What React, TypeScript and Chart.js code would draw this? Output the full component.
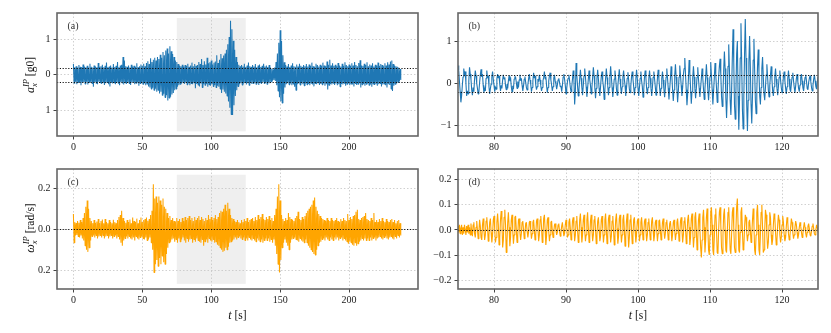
import React, { useEffect, useRef } from "react";
import { Chart, registerables } from "chart.js";
Chart.register(...registerables);

const FONT = '"Liberation Serif", "DejaVu Serif", serif';

// ---- Panel (a): acceleration envelope, one upper and one lower value per second (t = 0..237 s)
const accUpper = [
  .30,.21,.24,.20,.27,.22,.21,.29,.23,.21,
  .25,.20,.31,.22,.20,.26,.23,.21,.33,.22,
  .24,.28,.21,.25,.34,.21,.23,.26,.20,.30,
  .22,.25,.36,.21,.26,.28,.50,.40,.24,.22,
  .26,.20,.28,.23,.25,.22,.32,.21,.24,.29,
  .25,.31,.24,.33,.38,.30,.46,.36,.42,.48,
  .40,.50,.44,.56,.48,.64,.55,.68,.74,.60,
  .80,.66,.58,.50,.40,.36,.30,.26,.24,.28,
  .23,.27,.25,.31,.22,.26,.34,.24,.30,.25,
  .27,.36,.30,.44,.27,.38,.29,.48,.32,.35,
  .40,.29,.34,.37,.55,.33,.42,.58,.46,.54,
  .60,.70,.86,1.06,1.52,1.28,.96,.70,.50,.36,
  .28,.24,.27,.23,.31,.22,.26,.34,.24,.22,
  .27,.23,.30,.21,.26,.29,.22,.25,.31,.23,
  .26,.22,.27,.20,.17,.15,.20,.36,.60,.90,
  1.25,.95,.55,.35,.27,.23,.30,.22,.26,.32,
  .24,.22,.29,.23,.31,.25,.22,.27,.24,.30,
  .23,.29,.25,.34,.24,.22,.31,.27,.23,.28,
  .25,.34,.26,.24,.37,.28,.42,.26,.32,.25,
  .28,.24,.33,.26,.23,.31,.25,.35,.27,.24,
  .29,.25,.32,.26,.36,.27,.24,.33,.41,.26,
  .25,.31,.27,.35,.24,.29,.26,.32,.23,.28,
  .26,.34,.25,.30,.27,.24,.32,.26,.35,.29,
  .37,.40,.30,.26,.24,.22,.20,.16,
];
const accLower = [
  -.24,-.20,-.27,-.22,-.21,-.30,-.23,-.21,-.26,-.20,
  -.28,-.22,-.20,-.25,-.34,-.21,-.24,-.27,-.20,-.23,
  -.26,-.21,-.29,-.24,-.22,-.27,-.33,-.21,-.25,-.23,
  -.27,-.22,-.24,-.30,-.21,-.25,-.28,-.23,-.26,-.22,
  -.25,-.29,-.23,-.21,-.27,-.24,-.22,-.31,-.25,-.23,
  -.27,-.24,-.30,-.26,-.33,-.36,-.40,-.37,-.44,-.40,
  -.48,-.44,-.53,-.48,-.58,-.54,-.64,-.58,-.73,-.66,
  -.62,-.56,-.52,-.44,-.40,-.34,-.30,-.27,-.25,-.23,
  -.26,-.22,-.28,-.24,-.30,-.25,-.27,-.23,-.38,-.26,
  -.29,-.33,-.25,-.36,-.27,-.30,-.26,-.34,-.28,-.31,
  -.27,-.33,-.29,-.36,-.31,-.34,-.40,-.52,-.42,-.48,
  -.53,-.60,-.76,-.93,-1.12,-1.14,-.86,-.60,-.44,-.33,
  -.27,-.24,-.29,-.25,-.22,-.28,-.24,-.30,-.23,-.26,
  -.25,-.22,-.27,-.24,-.29,-.23,-.26,-.21,-.25,-.23,
  -.27,-.22,-.24,-.20,-.17,-.15,-.18,-.30,-.46,-.64,
  -.75,-.80,-.54,-.36,-.27,-.24,-.28,-.25,-.30,-.26,
  -.34,-.44,-.27,-.25,-.29,-.24,-.27,-.31,-.25,-.28,
  -.26,-.30,-.24,-.28,-.33,-.25,-.27,-.23,-.29,-.26,
  -.28,-.25,-.31,-.27,-.42,-.30,-.26,-.28,-.24,-.29,
  -.25,-.30,-.27,-.34,-.26,-.28,-.24,-.31,-.27,-.25,
  -.30,-.26,-.28,-.33,-.25,-.29,-.27,-.24,-.36,-.28,
  -.26,-.31,-.27,-.25,-.30,-.28,-.34,-.26,-.29,-.27,
  -.31,-.27,-.25,-.33,-.28,-.26,-.30,-.36,-.27,-.29,
  -.40,-.46,-.31,-.27,-.25,-.22,-.19,-.15,
];

// ---- Panel (c): angular rate envelope, one upper and one lower value per second (t = 0..237 s)
const rateUpper = [
  .075,.035,.03,.04,.032,.045,.035,.055,.08,.11,
  .14,.10,.055,.04,.03,.045,.032,.038,.05,.03,
  .04,.048,.03,.05,.035,.03,.045,.036,.03,.046,
  .035,.03,.045,.06,.07,.09,.055,.04,.032,.045,
  .036,.048,.03,.058,.04,.035,.052,.03,.045,.058,
  .036,.045,.05,.058,.042,.05,.07,.09,.22,.15,
  .16,.13,.16,.14,.12,.15,.11,.10,.08,.055,
  .065,.045,.055,.04,.038,.055,.04,.05,.036,.055,
  .04,.06,.045,.055,.065,.045,.055,.04,.06,.045,
  .055,.065,.045,.06,.05,.04,.055,.045,.07,.05,
  .06,.045,.055,.07,.05,.06,.08,.09,.085,.10,
  .12,.09,.13,.10,.07,.055,.05,.04,.035,.045,
  .035,.03,.045,.035,.05,.04,.055,.035,.045,.05,
  .055,.04,.06,.045,.07,.05,.06,.075,.05,.045,
  .06,.05,.065,.045,.055,.04,.07,.10,.16,.22,
  .14,.07,.05,.04,.055,.045,.08,.06,.05,.045,
  .04,.055,.065,.085,.05,.045,.06,.05,.065,.08,
  .09,.10,.11,.12,.14,.155,.11,.09,.075,.065,
  .055,.05,.045,.04,.055,.045,.04,.055,.045,.04,
  .045,.055,.04,.035,.05,.04,.055,.045,.04,.075,
  .045,.06,.05,.065,.07,.085,.095,.05,.045,.055,
  .06,.065,.08,.05,.045,.04,.055,.045,.08,.035,
  .045,.035,.05,.04,.055,.04,.035,.05,.04,.035,
  .045,.05,.035,.045,.03,.04,.045,.03,
];
const rateLower = [
  -.065,-.03,-.028,-.035,-.04,-.03,-.045,-.055,-.08,-.10,
  -.11,-.09,-.055,-.035,-.03,-.04,-.03,-.045,-.035,-.03,
  -.04,-.03,-.045,-.035,-.03,-.045,-.035,-.03,-.045,-.035,
  -.03,-.045,-.035,-.05,-.065,-.08,-.055,-.045,-.035,-.045,
  -.035,-.045,-.05,-.04,-.055,-.035,-.045,-.05,-.04,-.035,
  -.045,-.05,-.04,-.055,-.05,-.04,-.065,-.10,-.21,-.17,
  -.15,-.18,-.14,-.17,-.13,-.16,-.17,-.12,-.09,-.065,
  -.06,-.05,-.045,-.06,-.05,-.065,-.045,-.06,-.05,-.04,
  -.055,-.065,-.045,-.06,-.05,-.045,-.065,-.05,-.06,-.045,
  -.055,-.06,-.065,-.05,-.08,-.06,-.05,-.065,-.045,-.055,
  -.06,-.05,-.065,-.06,-.075,-.08,-.09,-.10,-.11,-.105,
  -.09,-.10,-.085,-.065,-.06,-.055,-.05,-.04,-.05,-.04,
  -.035,-.045,-.05,-.04,-.055,-.045,-.055,-.04,-.05,-.055,
  -.045,-.055,-.06,-.045,-.055,-.06,-.05,-.065,-.055,-.045,
  -.055,-.045,-.06,-.05,-.065,-.05,-.08,-.12,-.17,-.21,
  -.15,-.09,-.065,-.05,-.065,-.08,-.10,-.065,-.05,-.045,
  -.04,-.05,-.055,-.06,-.045,-.055,-.06,-.065,-.05,-.065,
  -.08,-.09,-.10,-.11,-.12,-.125,-.10,-.08,-.065,-.06,
  -.05,-.045,-.055,-.04,-.05,-.055,-.04,-.05,-.055,-.04,
  -.05,-.04,-.055,-.045,-.04,-.055,-.045,-.055,-.06,-.07,
  -.06,-.065,-.075,-.08,-.065,-.08,-.07,-.06,-.055,-.045,
  -.055,-.045,-.055,-.045,-.055,-.04,-.055,-.045,-.04,-.055,
  -.045,-.04,-.035,-.045,-.05,-.04,-.035,-.045,-.05,-.04,
  -.035,-.045,-.05,-.035,-.045,-.03,-.04,-.03,
];

// ---- Panels (b) and (d): zoomed window 75..125 s, samples every 0.1 s
const zoomStart = 75;
const zoomStep = 0.1;
const accZoom = [
  // 75.0 - 78.9
  .42,.30,.05,-.20,-.45,-.30,-.05,.15, .35,.20,.28,.0,-.30,-.18,-.25,.05, .38,.22,.10,-.15,-.28,-.10,-.20,.10, .30,.18,.0,-.12,-.25,-.20,.02,.20, .33,.15,.22,-.05,-.22,-.10,-.18,.12,
  // 79.0 - 82.9
  .30,.12,.18,-.08,-.25,-.12,-.02,.15, .28,.10,-.05,-.20,-.08,-.14,.10,.22, .12,.18,-.02,-.18,-.05,-.12,.08,.20, .10,.14,-.06,-.15,-.02,-.12,.06,.18, .05,.14,-.08,-.20,-.06,-.14,.10,.16,
  // 83.0 - 86.9
  .15,.02,-.12,.04,-.10,.08,.20,.06, .12,-.05,-.18,-.06,.10,.16,.02,-.10, -.16,-.04,.10,.22,.08,-.02,-.20,-.10, .06,.25,.12,.18,-.04,-.15,-.08,.10, .04,.20,.08,-.06,-.18,-.10,.06,.14,
  // 87.0 - 90.9
  .28,.10,.16,-.05,-.22,-.10,.05,.18, .25,.08,-.04,-.18,-.08,.12,.20,.05, -.02,-.14,-.04,.08,.12,.02,-.08,-.06, -.20,-.05,.15,.22,.10,-.05,-.25,-.12, .04,.12,.20,.06,-.10,-.20,-.08,.10,
  // 91.0 - 94.9
  .30,.08,-.50,-.20,.48,.20,-.05,-.30, -.15,.10,.32,.12,-.10,-.28,-.05,.18, .35,.15,-.08,-.32,-.12,.10,.30,.08, -.05,-.25,-.10,.15,.38,.18,-.10,-.35, -.12,.12,.32,.10,-.12,-.30,-.08,.16,
  // 95.0 - 98.9
  .28,.06,-.08,-.38,-.15,.12,.35,.14, -.06,-.28,-.10,.15,.40,.16,-.10,-.32, -.12,.10,.30,.12,-.12,-.28,-.06,.14, .33,.10,-.10,-.25,-.08,.15,.30,.10, -.05,-.30,-.12,.12,.26,.08,-.14,-.22,
  // 99.0 - 102.9
  -.06,.15,.28,.10,-.08,-.28,-.10,.10, .32,.12,-.12,-.30,-.10,.12,.28,.06, -.08,-.33,-.14,.15,.30,.12,-.12,-.26, -.10,.10,.30,.12,-.12,-.30,-.10,.14, .28,.10,-.08,-.28,-.12,.12,.32,.10,
  // 103.0 - 106.9
  -.10,-.30,-.12,.12,.28,.08,-.14,-.33, -.10,.15,.35,.12,-.12,-.38,-.14,.10, .40,.18,-.14,-.42,-.16,.18,.45,.15, -.10,-.45,-.20,.15,.42,.20,-.05,-.30, -.10,.20,.35,.60,.20,-.15,-.52,-.25,
  // 107.0 - 110.9
  .10,.55,.25,-.10,-.48,-.20,.12,.40, .15,-.12,-.35,-.12,.15,.38,.10,-.12, -.32,-.10,.12,.35,.12,-.15,-.38,-.12, .15,.45,.14,-.15,-.40,-.14,.16,.50, .18,-.15,-.50,-.18,.14,.48,.20,-.10,
  // 111.0 - 114.9
  -.45,-.20,.15,.40,.58,.20,-.30,-.55,-.20,.30, .75,.35,-.35,-.82,-.30,.40,.92,.30,-.40,-.75, -.20,.60,1.28,.50,-.50,-.85,-.20,.70,1.00,-.30, -1.10,-.40,.60,1.42,.50,-.60,-1.08,-.30,.70,1.52,
  // 115.0 - 118.9
  .60,-.50,-1.13,-.40,.50,1.12,.40,-.50,-.95,-.30, .55,1.05,.30,-.40,-.72,-.20,.40,.80,.25,-.30, -.50,-.10,.35,.62,.15,-.25,-.40,-.10,.20,.45, .15,-.15,-.32,-.05,.20,.40,.10,-.18,-.30,-.08,
  // 119.0 - 122.9
  .15,.35,.10,-.12,-.28,-.08,.14,.30, .08,-.10,-.22,-.05,.16,.28,.06,-.12, -.25,-.08,.12,.30,.10,-.14,-.20,-.02, .15,.25,.06,-.10,-.22,-.06,.12,.22, .04,-.12,-.20,-.04,.14,.22,.06,-.10,
  // 123.0 - 125.0
  -.18,-.02,.14,.20,.05,-.12,-.15,.02,.12,.18, .04,-.10,-.18,-.05,.10,.20,.06,-.08,-.14,.02,.15,
];
const rateZoom = [
  // 75.0 - 78.9
  .015,-.01,.02,-.015,.005,.02,-.02,.01, -.015,.02,.0,-.02,.015,-.01,.02,-.015, .01,-.02,.025,-.01,-.025,.02,.03,-.015, -.03,.01,.035,.0,-.035,-.01,.04,.015, -.03,-.04,.02,.045,.0,-.04,-.02,.035,
  // 79.0 - 82.9
  .05,.01,-.045,-.02,.03,.045,-.01,-.05, -.02,.04,.055,.0,-.05,-.03,.03,.065, .02,-.06,-.03,.04,.075,.03,-.07,-.04, .05,.08,.02,-.09,-.05,.03,.07,.01, -.065,-.03,.04,.06,.0,-.055,-.02,.05,
  // 83.0 - 86.9
  .055,.0,-.05,-.02,.04,.045,-.01,-.04, -.015,.03,.035,.0,-.035,-.01,.025,.03, -.005,-.03,-.01,.03,.035,.0,-.035,-.015,.03,.04, .0,-.04,-.02,.035,.045,.005,-.045,-.02,.04,.055, .01,-.05,-.02,.045,
  // 87.0 - 90.9
  .06,.0,-.06,-.025,.04,.05,-.005,-.045, -.02,.03,.035,-.005,-.03,-.01,.02,.025, .0,-.02,-.01,.02,.025,-.005,-.025,-.01, .015,.03,.0,-.025,-.015,.02,.04,.01, -.03,-.02,.03,.045,.005,-.04,-.02,.035,
  // 91.0 - 94.9
  .05,.01,-.045,-.02,.035,.055,.0,-.05, -.025,.04,.065,.01,-.05,-.02,.04,.06, .0,-.045,-.02,.04,.07,.01,-.05,-.03, .035,.06,.0,-.045,-.02,.04,.055,.0, -.055,-.02,.035,.05,.0,-.045,-.025,.04,
  // 95.0 - 98.9
  .055,.005,-.05,-.02,.04,.065,.0,-.055, -.02,.045,.06,.0,-.05,-.025,.035,.055, .0,-.06,-.02,.04,.065,.005,-.055,-.025, .045,.06,.0,-.05,-.02,.04,.06,.005, -.065,-.03,.035,.065,.0,-.07,-.03,.04,
  // 99.0 - 102.9
  .06,.0,-.055,-.02,.04,.05,-.005,-.05, -.02,.035,.045,.0,-.045,-.02,.03,.05, .005,-.04,-.015,.035,.045,.0,-.045,-.02, .03,.045,.0,-.04,-.015,.035,.05,.0, -.045,-.02,.03,.04,.0,-.045,-.015,.035,
  // 103.0 - 106.9
  .04,.0,-.04,-.015,.03,.045,.0,-.035, -.015,.03,.04,.0,-.04,-.02,.025,.035, .0,-.045,-.02,.03,.04,.0,-.04,-.015, .03,.045,.005,-.045,-.02,.035,.05,.0, -.05,-.02,.035,.05,.005,-.055,-.025,.04,
  // 107.0 - 110.9
  .06,.01,-.06,-.03,.045,.065,.005,-.07, -.03,.05,.07,.0,-.08,-.04,.04,.065, .0,-.07,-.11,-.04,.05,.08,.01,-.09, -.04,.05,.085,.01,-.08,-.10,-.02,.07, .09,.02,-.08,-.10,-.03,.06,.085,.0,
  // 111.0 - 114.9
  -.09,-.095,.0,.07,.09,.02,-.07,-.095, -.02,.06,.085,.0,-.08,-.09,-.01,.07, .09,.01,-.08,-.095,-.02,.07,.09,.01, -.07,-.09,.0,.09,.125,.02,-.08,-.09, -.01,.07,.09,.0,-.08,-.07,.01,.06,
  // 115.0 - 118.9
  .05,-.01,-.045,-.02,.03,.04,.0,-.05, -.02,.04,.085,.02,-.08,-.10,-.02,.07, .10,.02,-.08,-.10,-.02,.07,.10,.01, -.09,-.08,.0,.08,.06,-.02,-.075,-.05, .02,.07,.05,-.02,-.06,-.04,.02,.065,
  // 119.0 - 122.9
  .05,-.01,-.06,-.04,.02,.06,.04,-.02, -.05,-.03,.02,.055,.03,-.02,-.045,-.03, .015,.05,.03,-.015,-.04,-.025,.01,.045, .03,-.01,-.035,-.02,.01,.035,.02,-.01, -.035,-.02,.01,.03,.015,-.01,-.03,-.015,
  // 123.0 - 125.0
  .01,.03,.01,-.015,-.03,-.01,.015,.025,.005,-.02, -.025,-.005,.015,.025,.005,-.015,-.02,.0,.02,.01,-.01,
];

// ---- ticks and labels
const fullXTicks = [0, 50, 100, 150, 200];
const fullXLabels = ["0", "50", "100", "150", "200"];
const zoomXTicks = [80, 90, 100, 110, 120];
const zoomXLabels = ["80", "90", "100", "110", "120"];
const accYTicks = [-1, 0, 1];
const accYLabels = ["1", "0", "1"];
const accZoomYTicks = [-1, 0, 1];
const accZoomYLabels = ["\u22121", "0", "1"];
const rateYTicks = [-0.2, 0, 0.2];
const rateYLabels = ["0.2", "0.0", "0.2"];
const rateZoomYTicks = [-0.2, -0.1, 0, 0.1, 0.2];
const rateZoomYLabels = ["\u22120.2", "\u22120.1", "0.0", "0.1", "0.2"];
const accThresholds = [-0.2, 0.2];
const rateThresholds = [0];
const shadeWindow = [75, 125];

type Seg = { t: string; s: number; i: boolean; dy: number; stack?: boolean };

const fullPoints = (up: number[], lo: number[]) =>
  up.flatMap((u, k) => [{ x: k, y: u }, { x: k + 0.5, y: lo[k] }]);
const zoomPoints = (vals: number[]) => vals.map((v, k) => ({ x: zoomStart + k * zoomStep, y: v }));

const BLUE = "#1f77b4";
const ORANGE = "#ffa500";

const PANELS: any[] = [
  {
    left: 0, top: 0, width: 430, height: 160,
    area: { left: 57, top: 13, right: 418, bottom: 136 },
    points: fullPoints(accUpper, accLower), color: BLUE, lw: 1.05,
    xMin: -11.9, xMax: 250, yMin: -1.73, yMax: 1.74,
    xTicks: fullXTicks, xLabels: fullXLabels, yTicks: accYTicks, yLabels: accYLabels,
    hLines: accThresholds, shade: { x0: shadeWindow[0], x1: shadeWindow[1], y0: -1.6, y1: 1.6 },
    tag: "(a)",
    yTitle: { cx: 34, cy: 75, segs: [
      { t: "a", s: 12, i: true, dy: 0 },
      { t: "x", s: 8.5, i: true, dy: 2.5, stack: true },
      { t: "IP", s: 8.5, i: true, dy: -5 },
      { t: " [g0]", s: 11.5, i: false, dy: 0 },
    ] },
  },
  {
    left: 430, top: 0, width: 401, height: 160,
    area: { left: 28, top: 13, right: 388, bottom: 136 },
    points: zoomPoints(accZoom), color: BLUE, lw: 1.1,
    xMin: 75, xMax: 125, yMin: -1.246, yMax: 1.662,
    xTicks: zoomXTicks, xLabels: zoomXLabels, yTicks: accZoomYTicks, yLabels: accZoomYLabels,
    hLines: accThresholds, tag: "(b)",
  },
  {
    left: 0, top: 160, width: 430, height: 173,
    area: { left: 57, top: 5, right: 418, bottom: 129 },
    points: fullPoints(rateUpper, rateLower), color: ORANGE, lw: 1.05,
    xMin: -11.9, xMax: 250, yMin: -0.291, yMax: 0.294,
    xTicks: fullXTicks, xLabels: fullXLabels, yTicks: rateYTicks, yLabels: rateYLabels,
    hLines: rateThresholds, shade: { x0: shadeWindow[0], x1: shadeWindow[1], y0: -0.266, y1: 0.266 },
    tag: "(c)",
    yTitle: { cx: 34, cy: 68, segs: [
      { t: "\u03c9", s: 12, i: true, dy: 0 },
      { t: "x", s: 8.5, i: true, dy: 2.5, stack: true },
      { t: "IP", s: 8.5, i: true, dy: -5 },
      { t: " [rad/s]", s: 11.5, i: false, dy: 0 },
    ] },
    xTitle: true,
  },
  {
    left: 430, top: 160, width: 401, height: 173,
    area: { left: 28, top: 5, right: 388, bottom: 129 },
    points: zoomPoints(rateZoom), color: ORANGE, lw: 1.1,
    xMin: 75, xMax: 125, yMin: -0.235, yMax: 0.242,
    xTicks: zoomXTicks, xLabels: zoomXLabels, yTicks: rateZoomYTicks, yLabels: rateZoomYLabels,
    hLines: rateThresholds, tag: "(d)", xTitle: true,
  },
];

function fontStr(size: number, italic: boolean) {
  return `${italic ? "italic " : ""}${size}px ${FONT}`;
}

function drawSegs(ctx: CanvasRenderingContext2D, segs: Seg[], cx: number, cy: number, rotate: boolean) {
  ctx.save();
  ctx.translate(cx, cy);
  if (rotate) ctx.rotate(-Math.PI / 2);
  ctx.fillStyle = "#111";
  ctx.textBaseline = "alphabetic";
  ctx.textAlign = "left";
  let total = 0;
  let stackW = 0;
  for (const sg of segs) {
    ctx.font = fontStr(sg.s, sg.i);
    const w = ctx.measureText(sg.t).width;
    if (sg.stack) stackW = w;
    else { total += Math.max(w, stackW); stackW = 0; }
  }
  let x = -total / 2;
  stackW = 0;
  for (const sg of segs) {
    ctx.font = fontStr(sg.s, sg.i);
    const w = ctx.measureText(sg.t).width;
    ctx.fillText(sg.t, x, sg.dy);
    if (sg.stack) stackW = w;
    else { x += Math.max(w, stackW); stackW = 0; }
  }
  ctx.restore();
}

function makeChart(canvas: HTMLCanvasElement, p: any) {
  const W = p.width;
  const H = p.height;
  const deco = {
    id: "deco",
    beforeDraw(chart: any) {
      const ctx = chart.ctx;
      const xs = chart.scales.x;
      const ys = chart.scales.y;
      ctx.save();
      ctx.fillStyle = "#ffffff";
      ctx.fillRect(0, 0, chart.width, chart.height);
      if (p.shade) {
        const x0 = xs.getPixelForValue(p.shade.x0);
        const x1 = xs.getPixelForValue(p.shade.x1);
        const y0 = ys.getPixelForValue(p.shade.y1);
        const y1 = ys.getPixelForValue(p.shade.y0);
        ctx.fillStyle = "#efefef";
        ctx.fillRect(x0, y0, x1 - x0, y1 - y0);
      }
      ctx.restore();
    },
    afterDatasetsDraw(chart: any) {
      const ctx = chart.ctx;
      const a = chart.chartArea;
      const ys = chart.scales.y;
      ctx.save();
      ctx.strokeStyle = "#111";
      ctx.lineWidth = 1.2;
      ctx.setLineDash([1.2, 1.6]);
      for (const v of p.hLines) {
        const y = Math.round(ys.getPixelForValue(v)) + 0.5;
        ctx.beginPath();
        ctx.moveTo(a.left, y);
        ctx.lineTo(a.right, y);
        ctx.stroke();
      }
      ctx.restore();
    },
    afterDraw(chart: any) {
      const ctx = chart.ctx;
      const a = chart.chartArea;
      ctx.save();
      ctx.strokeStyle = "#666";
      ctx.lineWidth = 1.6;
      ctx.strokeRect(a.left, a.top, a.right - a.left, a.bottom - a.top);
      ctx.fillStyle = "#333";
      ctx.font = `10px ${FONT}`;
      ctx.textBaseline = "alphabetic";
      ctx.fillText(p.tag, a.left + 10.5, a.top + 16);
      ctx.restore();
      if (p.yTitle) drawSegs(ctx, p.yTitle.segs, p.yTitle.cx, p.yTitle.cy, true);
      if (p.xTitle) {
        drawSegs(ctx, [
          { t: "t", s: 12, i: true, dy: 0 },
          { t: " [s]", s: 11.5, i: false, dy: 0 },
        ], (a.left + a.right) / 2, 159, false);
      }
    },
  };

  const axisCommon = (ticks: number[], labels: string[]) => ({
    type: "linear",
    bounds: "data",
    afterBuildTicks: (s: any) => { s.ticks = ticks.map((v) => ({ value: v })); },
    ticks: {
      autoSkip: false,
      maxRotation: 0,
      minRotation: 0,
      color: "#222",
      font: { family: FONT, size: 10 },
      callback: (v: number) => { const k = ticks.indexOf(v); return k >= 0 ? labels[k] : ""; },
    },
    grid: {
      color: "#c4c4c4",
      lineWidth: 0.8,
      drawTicks: true,
      tickLength: 3.5,
      tickColor: "#444",
      tickWidth: 1,
      tickBorderDash: [],
    },
    border: { display: false, dash: [1.5, 2] },
  });

  const xAxis: any = axisCommon(p.xTicks, p.xLabels);
  xAxis.min = p.xMin; xAxis.max = p.xMax; xAxis.position = "bottom";
  xAxis.ticks.padding = 2;
  xAxis.afterFit = (s: any) => { s.height = H - p.area.bottom; };
  const yAxis: any = axisCommon(p.yTicks, p.yLabels);
  yAxis.min = p.yMin; yAxis.max = p.yMax; yAxis.position = "left";
  yAxis.ticks.padding = 3;
  yAxis.afterFit = (s: any) => { s.width = p.area.left; };

  return new Chart(canvas, {
    type: "line",
    data: {
      datasets: [{
        data: p.points,
        borderColor: p.color,
        borderWidth: p.lw,
        pointRadius: 0,
        tension: 0,
        fill: false,
        borderJoinStyle: "bevel",
      } as any],
    },
    options: {
      animation: false,
      responsive: false,
      devicePixelRatio: 1,
      events: [],
      parsing: false,
      normalized: true,
      layout: { padding: { left: 0, top: p.area.top, right: W - p.area.right, bottom: 0 } },
      plugins: { legend: { display: false }, tooltip: { enabled: false } },
      scales: { x: xAxis, y: yAxis },
    } as any,
    plugins: [deco],
  });
}

export default function App() {
  const refs = useRef<(HTMLCanvasElement | null)[]>([]);
  useEffect(() => {
    const charts = PANELS.map((p, k) => makeChart(refs.current[k] as HTMLCanvasElement, p));
    return () => charts.forEach((c) => c.destroy());
  }, []);
  return (
    <div style={{ position: "fixed", left: 0, top: 0, width: 831, height: 333, background: "#fff" }}>
      {PANELS.map((p, k) => (
        <canvas
          key={k}
          ref={(el) => { refs.current[k] = el; }}
          width={p.width}
          height={p.height}
          style={{ position: "absolute", left: p.left, top: p.top, width: p.width, height: p.height }}
        />
      ))}
    </div>
  );
}
